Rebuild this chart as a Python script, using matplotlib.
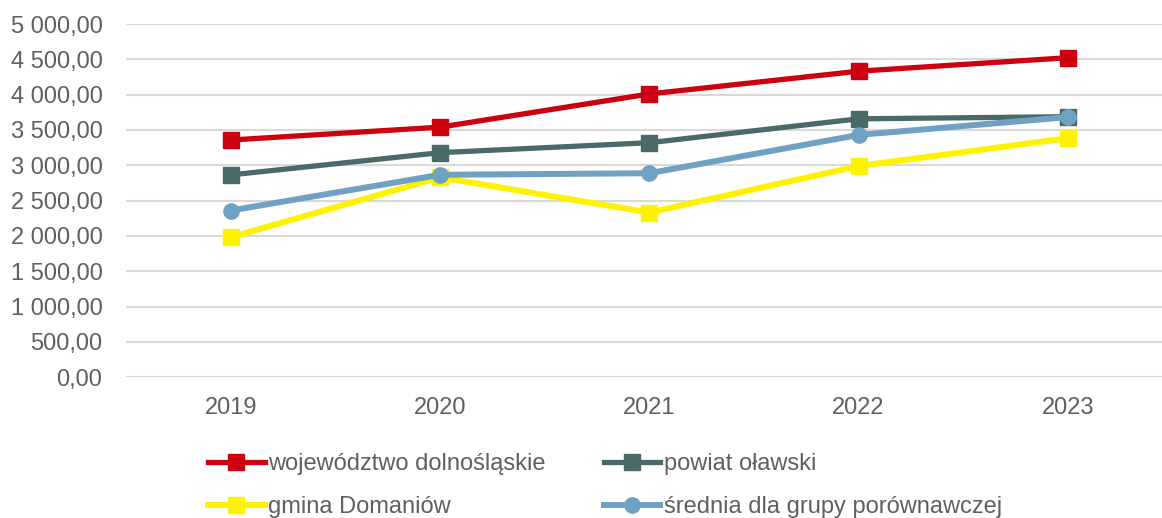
import matplotlib
matplotlib.use("Agg")
import matplotlib.pyplot as plt
from matplotlib.ticker import FuncFormatter, MultipleLocator

# Data
years = ["2019", "2020", "2021", "2022", "2023"]
wojewodztwo = [3358, 3540, 4010, 4332, 4523]
powiat = [2864, 3179, 3320, 3658, 3688]
gmina = [1981, 2830, 2332, 2990, 3384]
srednia = [2360, 2866, 2888, 3430, 3682]

labels = ["województwo dolnośląskie", "powiat oławski",
          "gmina Domaniów", "średnia dla grupy porównawczej"]

plt.rcParams["font.family"] = ["Liberation Sans", "DejaVu Sans"]
text_color = "#5F5F5F"
fs = 17

fig = plt.figure(figsize=(11.62, 5.18), dpi=100)
ax = fig.add_axes([126 / 1162, 140.7 / 518, 1 - 126 / 1162, (377.3 - 24) / 518])

x = list(range(len(years)))
h_woj, = ax.plot(x, wojewodztwo, color="#CC0010", lw=3.8, marker="s", ms=11,
                 label=labels[0], zorder=3)
h_pow, = ax.plot(x, powiat, color="#4A6A6A", lw=3.8, marker="s", ms=11,
                 label=labels[1], zorder=3)
h_gm, = ax.plot(x, gmina, color="#FFF200", lw=4.3, marker="s", ms=11,
                label=labels[2], zorder=3)
h_sr, = ax.plot(x, srednia, color="#6FA1C2", lw=4.3, marker="o", ms=11,
                label=labels[3], zorder=3)

ax.set_ylim(0, 5000)
ax.set_xlim(-0.5, -0.5 + (1162 - 126) / 209.3)
ax.yaxis.set_major_locator(MultipleLocator(500))


def pl_format(v, pos):
    s = f"{v:,.2f}"
    return s.replace(",", " ").replace(".", ",")


ax.yaxis.set_major_formatter(FuncFormatter(pl_format))
ax.set_xticks(x)
ax.set_xticklabels(years)
ax.grid(axis="y", color="#D9D9D9", lw=1.5, zorder=0)
ax.set_axisbelow(True)
for s in ax.spines.values():
    s.set_visible(False)
ax.tick_params(axis="both", length=0, labelsize=fs, colors=text_color)
ax.tick_params(axis="y", pad=17)
ax.tick_params(axis="x", pad=14)

leg = fig.legend(handles=[h_woj, h_gm, h_pow, h_sr], ncol=2, frameon=False,
                 loc="upper left", bbox_to_anchor=(208 / 1162, 1 - 453 / 518),
                 fontsize=fs, handlelength=2.4, handletextpad=0.15,
                 columnspacing=2.45, labelspacing=0.9, borderpad=0,
                 borderaxespad=0)
for t in leg.get_texts():
    t.set_color(text_color)

fig.savefig("out.png", dpi=100)
